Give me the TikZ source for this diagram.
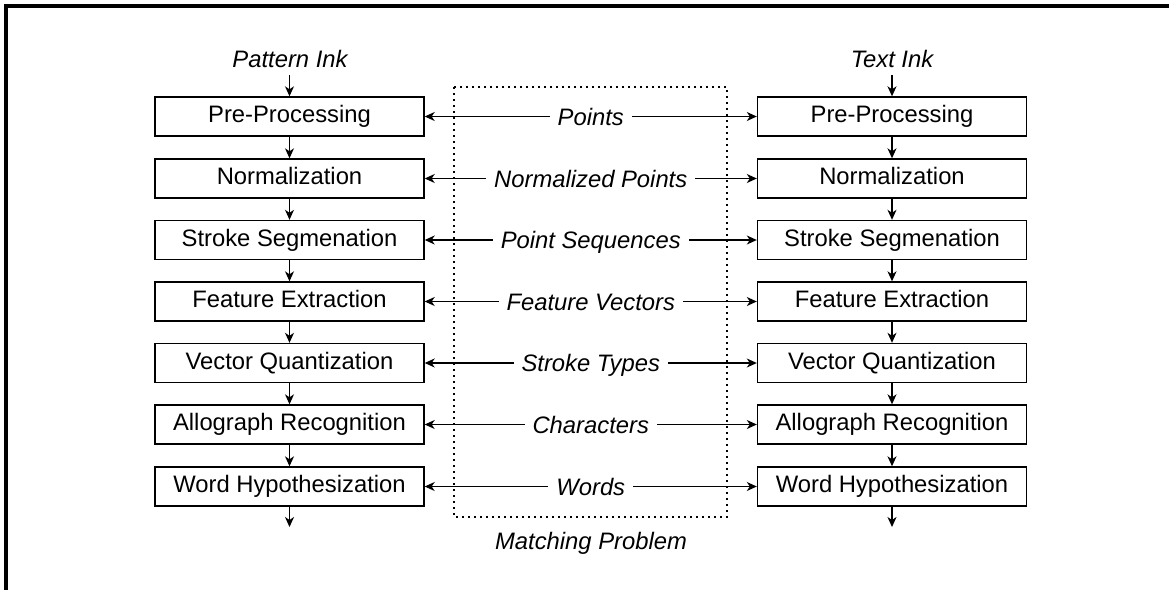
\documentclass[tikz,border=0pt]{standalone}
\usepackage{fontspec}
\setmainfont{Liberation Sans}
\usetikzlibrary{arrows.meta}
\begin{document}
\begin{tikzpicture}[x=1pt,y=-1pt,
  proc/.style={draw, line width=1.4pt, minimum width=269pt, minimum height=39pt, inner sep=0pt,
    text height=17pt, text depth=5pt, font=\fontsize{23.8}{28}\selectfont},
  lbl/.style={font=\fontsize{23.8}{28}\selectfont\itshape, fill=white, inner xsep=8pt, inner ysep=1pt,
    text height=17pt, text depth=0pt},
  captxt/.style={font=\fontsize{23.8}{28}\selectfont\itshape, inner sep=0pt, text height=17pt, text depth=0pt},
  flow/.style={-{Stealth[length=10pt,width=9pt,inset=3pt]}, line width=1.3pt},
  both/.style={{Stealth[length=10pt,width=9pt,inset=3pt]}-{Stealth[length=10pt,width=9pt,inset=3pt]}, line width=1.3pt},
  framestyle/.style={line width=3.5pt}]
\useasboundingbox (0,0) rectangle (1169,590);
% frame (left and top edges)
\coordinate (fA) at (6,590);
\coordinate (fB) at (6,6);
\coordinate (fC) at (1169,6);
\draw[framestyle] (fA) -- (fB) -- (fC);
% matching region
\coordinate (mA) at (454,87);
\coordinate (mB) at (727,517);
\draw[line width=1.5pt, dash pattern=on 1.6pt off 4.4pt] (mA) rectangle (mB);
\node[captxt] (mp) at (591,541) {Matching Problem};
% inputs
\node[captxt] (inL) at (290,59) {Pattern Ink};
\node[captxt] (inR) at (892,59) {Text Ink};
\coordinate (sL) at (289.5,75);
\coordinate (sR) at (892,75);
% columns
\foreach \i/\y/\t/\m in {1/116.5/Pre-Processing/Points,
                         2/178.5/Normalization/Normalized Points,
                         3/240/Stroke Segmenation/Point Sequences,
                         4/301.5/Feature Extraction/Feature Vectors,
                         5/363/Vector Quantization/Stroke Types,
                         6/424.5/Allograph Recognition/Characters,
                         7/486.5/Word Hypothesization/Words}{
  \node[proc] (L\i) at (289.5,\y) {\t};
  \node[proc] (R\i) at (892,\y) {\t};
  \draw[both] (L\i.east) -- node[lbl] {\m} (R\i.west);
}
\draw[flow] (sL) -- (L1.north);
\draw[flow] (sR) -- (R1.north);
\foreach \i [count=\j from 2] in {1,...,6}{
  \draw[flow] (L\i.south) -- (L\j.north);
  \draw[flow] (R\i.south) -- (R\j.north);
}
\coordinate (eL) at (289.5,527);
\coordinate (eR) at (892,527);
\draw[flow] (L7.south) -- (eL);
\draw[flow] (R7.south) -- (eR);
\end{tikzpicture}
\end{document}
